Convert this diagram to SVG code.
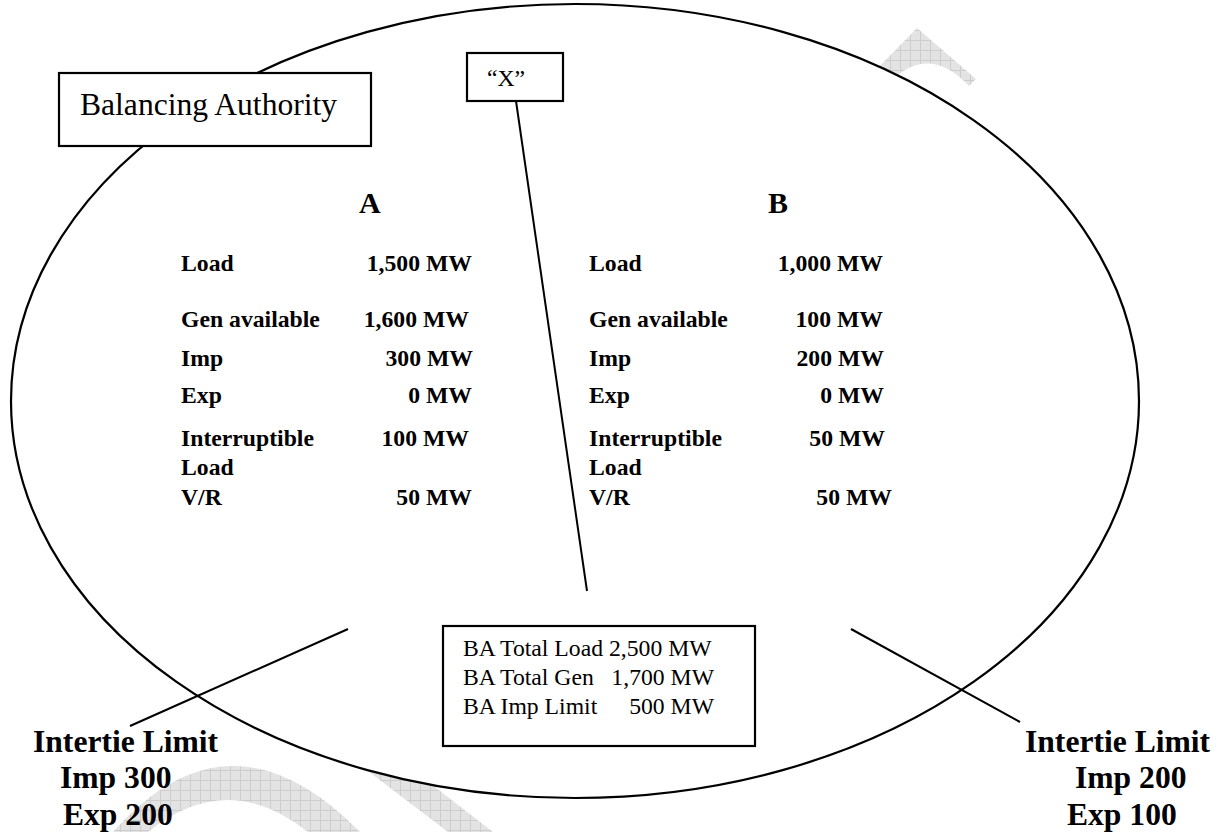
<svg xmlns="http://www.w3.org/2000/svg" width="1224" height="832" viewBox="0 0 1224 832">
<style>
.t{font-family:"Liberation Serif","Times New Roman",serif;fill:#000}
.s{font-size:23.7px}
.b{font-weight:bold}
.lg{font-size:31.6px}
.hd{font-size:30px;font-weight:bold}
.ln{stroke:#000;stroke-width:2;fill:none}
.bx{stroke:#000;stroke-width:2.2;fill:#fff}
.wm{fill:url(#grid)}
</style>
<defs>
<pattern id="grid" width="10" height="10" patternUnits="userSpaceOnUse">
<rect width="10" height="10" fill="#e3e3e3"/>
<path d="M0,0.5H10M0.5,0V10" stroke="#cdcdcd" stroke-width="1"/>
</pattern>
</defs>
<rect width="1224" height="832" fill="#fff"/>
<g id="watermark">
<path class="wm" d="M868,78 L917,28 L976,79 L969,86 Q930,44 892,80 Z"/>
<path class="wm" d="M113,832 Q230,700 360,832 L308,832 Q228,768 148,832 Z"/>
<path class="wm" d="M360,765 L400,760 L493,832 L448,832 Z"/>
</g>
<g id="ba-ellipse">
<ellipse cx="575" cy="401" rx="564" ry="397" fill="#fff" stroke="#000" stroke-width="2.2"/>
</g>
<g id="connectors">
<line class="ln" x1="516" y1="101" x2="587" y2="591"/>
<line class="ln" x1="348" y1="629" x2="130" y2="726"/>
<line class="ln" x1="851" y1="629" x2="1020" y2="722"/>
</g>
<g id="ba-label">
<rect class="bx" x="59" y="73" width="312" height="73"/>
<text class="t lg" x="80" y="115">Balancing Authority</text>
</g>
<g id="x-label">
<rect class="bx" x="467" y="53" width="96" height="48"/>
<text class="t s" x="487" y="86">“X”</text>
</g>
<g id="area-a">
<text class="t hd" x="359" y="213">A</text>
<g class="t s b">
<text x="181" y="271">Load</text>
<text x="181" y="327">Gen available</text>
<text x="181" y="366">Imp</text>
<text x="181" y="403">Exp</text>
<text x="181" y="446">Interruptible</text>
<text x="181" y="475">Load</text>
<text x="181" y="505">V/R</text>
</g>
<g class="t s b" text-anchor="end">
<text x="472" y="271">1,500 MW</text>
<text x="469" y="327">1,600 MW</text>
<text x="473" y="366">300 MW</text>
<text x="472" y="403">0 MW</text>
<text x="469" y="446">100 MW</text>
<text x="472" y="505">50 MW</text>
</g>
</g>
<g id="area-b">
<text class="t hd" x="768" y="213">B</text>
<g class="t s b">
<text x="589" y="271">Load</text>
<text x="589" y="327">Gen available</text>
<text x="589" y="366">Imp</text>
<text x="589" y="403">Exp</text>
<text x="589" y="446">Interruptible</text>
<text x="589" y="475">Load</text>
<text x="589" y="505">V/R</text>
</g>
<g class="t s b" text-anchor="end">
<text x="883" y="271">1,000 MW</text>
<text x="883" y="327">100 MW</text>
<text x="884" y="366">200 MW</text>
<text x="884" y="403">0 MW</text>
<text x="885" y="446">50 MW</text>
<text x="892" y="505">50 MW</text>
</g>
</g>
<g id="totals">
<rect class="bx" x="443" y="626" width="312" height="120"/>
<g class="t s">
<text x="463" y="656">BA Total Load 2,500 MW</text>
<text x="463" y="685">BA Total Gen</text>
<text x="714" y="685" text-anchor="end">1,700 MW</text>
<text x="463" y="714">BA Imp Limit</text>
<text x="714" y="714" text-anchor="end">500 MW</text>
</g>
</g>
<g id="intertie-a" class="t lg b">
<text x="33" y="752">Intertie Limit</text>
<text x="60" y="788">Imp 300</text>
<text x="63" y="825">Exp 200</text>
</g>
<g id="intertie-b" class="t lg b">
<text x="1025" y="752">Intertie Limit</text>
<text x="1075" y="788">Imp 200</text>
<text x="1067" y="825">Exp 100</text>
</g>
</svg>
